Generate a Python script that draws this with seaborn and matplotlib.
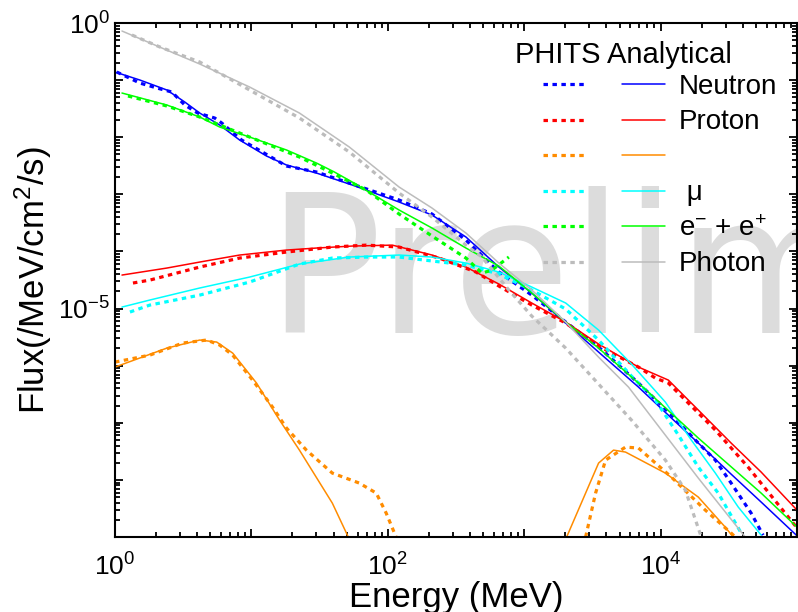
import numpy as np
import pandas as pd
import matplotlib
matplotlib.use("Agg")
import matplotlib.pyplot as plt
import seaborn as sns
from matplotlib.lines import Line2D
from matplotlib.legend_handler import HandlerTuple
from matplotlib.ticker import FixedLocator, LogLocator, FuncFormatter, NullFormatter

# ---------------- spectra (energy in MeV, flux in /MeV/cm^2/s) ----------------
neutron_phits_e = [1.03, 1.52, 2.03, 2.61, 3.25, 4.04, 5.38, 6.06, 8.48, 18.1, 30, 54.9, 121, 211,
                   374, 652, 1136, 2015, 3510, 6880, 1.2e4, 1.89e4, 2.52e4, 3.29e4, 4.61e4, 5.64e4]
neutron_phits_flux = [0.1386, 0.0889, 0.0727, 0.0619, 0.0366, 0.0265, 0.0217, 0.01773, 0.00893,
                      0.00313, 0.00246, 0.00151, 7.95e-4, 4.52e-4, 1.58e-4, 4.36e-5, 1.72e-5, 5.80e-6,
                      2.12e-6, 4.96e-7, 1.364e-7, 4.41e-8, 2.22e-8, 8.79e-9, 2.62e-9, 1.08e-9]
neutron_ana_e = [1, 1.52, 2.40, 3.25, 4.18, 5.85, 8.2, 12.9, 18.1, 30, 54.9, 121, 211, 374, 652,
                 1136, 2015, 3510, 6880, 1.2e4, 1.89e4, 3.29e4, 5.46e4, 1e5]
neutron_ana_flux = [0.1386, 0.1004, 0.0671, 0.0413, 0.0265, 0.01636, 0.00893, 0.00469, 0.00326,
                    0.00236, 0.001455, 7.33e-4, 4.34e-4, 1.79e-4, 5.33e-5, 1.87e-5, 5.57e-6, 1.73e-6,
                    4.22e-7, 1.21e-7, 4.41e-8, 1.26e-8, 4.09e-9, 1.05e-9]

proton_phits_e = [1.354, 1.80, 4.18, 8.2, 18.1, 39.2, 69.5, 121, 238, 443, 652, 1136, 2015, 3510,
                  6880, 9160, 1.14e4, 1.35e4, 2.52e4, 4.38e4, 9.9e4]
proton_phits_flux = [2.80e-5, 3.15e-5, 5.33e-5, 7.66e-5, 9.76e-5, 1.194e-4, 1.29e-4, 1.194e-4,
                     7.66e-5, 4.36e-5, 2.48e-5, 1.15e-5, 5.57e-6, 2.20e-6, 9.45e-7, 6.06e-7, 4.96e-7,
                     3.31e-7, 7.45e-8, 1.675e-8, 1.49e-9]
proton_ana_e = [1.125, 2.40, 4.18, 8.2, 18.1, 30, 54.9, 108, 211, 374, 652, 1136, 2015, 3510, 6880,
                1.14e4, 1.89e4, 3.29e4, 5.46e4, 1e5]
proton_ana_flux = [3.86e-5, 5.12e-5, 6.52e-5, 8.65e-5, 1.058e-4, 1.147e-4, 1.243e-4, 1.29e-4,
                   8.65e-5, 5.33e-5, 2.69e-5, 1.25e-5, 5.80e-6, 2.39e-6, 9.45e-7, 5.59e-7, 1.67e-7,
                   4.41e-8, 1.37e-8, 2.96e-9]

pion_phits_low_e = [1, 1.80, 3.14, 4.70, 5.85, 7.29, 10.2, 14.29, 18.09, 25.3, 39.2, 61.8, 82.3,
                    97.3, 115]
pion_phits_low_flux = [1.156e-6, 1.53e-6, 2.49e-6, 2.81e-6, 2.30e-6, 1.53e-6, 5.59e-7, 1.88e-7,
                       8.07e-8, 3.32e-8, 1.315e-8, 8.79e-9, 5.87e-9, 2.62e-9, 1.0e-9]
pion_phits_high_e = [2820, 3337, 3950, 5529, 6881, 1.199e4, 2.126e4, 3.293e4, 3.52e4]
pion_phits_high_flux = [1.0e-9, 5.87e-9, 2.22e-8, 3.75e-8, 3.61e-8, 1.119e-8, 2.96e-9, 1.17e-9,
                        1.0e-9]
pion_ana_low_e = [1, 2.40, 4.18, 5.57, 7.29, 10.9, 16.08, 22.5, 39.2, 51.3]
pion_ana_low_flux = [9.45e-7, 2.03e-6, 2.81e-6, 2.59e-6, 1.66e-6, 4.96e-7, 1.115e-7, 3.32e-8,
                     3.92e-9, 1.0e-9]
pion_ana_high_e = [2048, 3510, 4519, 5529, 1.084e4, 1.89e4, 2.977e4, 3.406e4]
pion_ana_high_flux = [1.0e-9, 1.97e-8, 3.32e-8, 3.07e-8, 1.315e-8, 5.00e-9, 1.49e-9, 1.0e-9]

muon_phits_e = [1.287, 1.80, 4.18, 9.7, 22.5, 39.2, 69.5, 121, 374, 652, 1136, 2015, 3510, 6115,
                9160, 1.35e4, 1.89e4, 2.645e4, 3.90e4]
muon_phits_flux = [8.69e-6, 1.15e-5, 1.72e-5, 2.91e-5, 6.01e-5, 7.66e-5, 7.98e-5, 7.98e-5,
                   5.78e-5, 4.02e-5, 2.11e-5, 9.80e-6, 2.81e-6, 6.57e-7, 2.50e-7, 6.09e-8, 1.675e-8,
                   5.87e-9, 1.17e-9]
muon_ana_e = [1.125, 1.80, 4.18, 9.7, 22.5, 52.2, 121, 211, 374, 652, 1136, 2015, 3510, 6115,
              1.084e4, 1.68e4, 2.52e4, 3.71e4, 5.46e4]
muon_ana_flux = [1.062e-5, 1.41e-5, 2.29e-5, 3.56e-5, 6.01e-5, 7.98e-5, 8.65e-5, 7.98e-5, 6.26e-5,
                 4.36e-5, 2.38e-5, 1.25e-5, 4.20e-6, 1.066e-6, 2.30e-7, 4.98e-8, 1.315e-8, 3.34e-9,
                 1.08e-9]

electron_phits_e = [1.245, 2.40, 4.18, 9.7, 22.5, 39.2, 69.5, 121, 211, 374, 490, 580, 772]
electron_phits_flux = [0.0527, 0.0352, 0.0226, 0.01008, 0.0045, 0.00236, 0.00119, 4.52e-4,
                       1.86e-4, 7.66e-5, 4.18e-5, 4.72e-5, 7.98e-5]
electron_ana_e = [1.125, 2.40, 4.18, 5.85, 9.7, 18.1, 30, 40.6, 54.9, 121, 211, 374, 652, 1136,
                  2015, 3510, 6880, 1.89e4, 5.46e4, 1e5]
electron_ana_flux = [0.0594, 0.0366, 0.0226, 0.01509, 0.01008, 0.00597, 0.00353, 0.00246, 0.00164,
                     5.31e-4, 2.57e-4, 1.147e-4, 5.55e-5, 1.87e-5, 5.80e-6, 2.03e-6, 4.96e-7,
                     5.40e-8, 5.87e-9, 1.49e-9]

photon_phits_e = [1.331, 2.133, 4.18, 9.7, 22.5, 52.2, 121, 211, 374, 490, 772, 1136, 2015, 3510,
                  6115, 1.084e4, 1.518e4, 1.987e4]
photon_phits_flux = [0.616, 0.380, 0.2075, 0.0671, 0.0217, 0.00551, 0.001054, 4.00e-4, 1.29e-4,
                     7.98e-5, 2.11e-5, 7.39e-6, 2.03e-6, 4.76e-7, 1.115e-7, 2.22e-8, 6.63e-9, 1.0e-9]
photon_ana_e = [1.125, 2.206, 4.18, 9.7, 22.5, 52.2, 121, 211, 374, 652, 1136, 2015, 3510, 5815,
                1.89e4, 4.17e4]
photon_ana_flux = [0.724, 0.365, 0.1914, 0.0757, 0.0265, 0.00674, 0.001342, 5.75e-4, 2.10e-4,
                   6.26e-5, 2.11e-5, 5.80e-6, 1.41e-6, 4.22e-7, 1.075e-8, 1.0e-9]

particles = ["Neutron", "Proton", "Pion", "Muon", "Electron", "Photon"]
legend_labels = ["Neutron", "Proton", "", " μ", "e$^{-}$ + e$^{+}$", "Photon"]
colors = ["#0000ff", "#ff0000", "#ff8c00", "#00ffff", "#00ff00", "#bcbcbc"]

x_labeled = [1, 1e2, 1e4]
y_labeled = [1e-5, 1]

series = [
    ("Neutron", "PHITS", neutron_phits_e, neutron_phits_flux),
    ("Neutron", "Analytical", neutron_ana_e, neutron_ana_flux),
    ("Proton", "PHITS", proton_phits_e, proton_phits_flux),
    ("Proton", "Analytical", proton_ana_e, proton_ana_flux),
    ("Pion", "PHITS", pion_phits_low_e, pion_phits_low_flux),
    ("Pion", "PHITS", pion_phits_high_e, pion_phits_high_flux),
    ("Pion", "Analytical", pion_ana_low_e, pion_ana_low_flux),
    ("Pion", "Analytical", pion_ana_high_e, pion_ana_high_flux),
    ("Muon", "PHITS", muon_phits_e, muon_phits_flux),
    ("Muon", "Analytical", muon_ana_e, muon_ana_flux),
    ("Electron", "PHITS", electron_phits_e, electron_phits_flux),
    ("Electron", "Analytical", electron_ana_e, electron_ana_flux),
    ("Photon", "PHITS", photon_phits_e, photon_phits_flux),
    ("Photon", "Analytical", photon_ana_e, photon_ana_flux),
]

rows = []
for seg, (particle, source, energies, fluxes) in enumerate(series):
    for e, f in zip(energies, fluxes):
        rows.append((particle, source, seg, e, f))
df = pd.DataFrame(rows, columns=["particle", "source", "segment", "energy", "flux"])

# ---------------- styling ----------------
sns.set_theme(style="ticks")
plt.rcParams["font.family"] = ["Liberation Sans", "DejaVu Sans"]
plt.rcParams["mathtext.fontset"] = "custom"
plt.rcParams["mathtext.rm"] = "Liberation Sans"
plt.rcParams["mathtext.it"] = "Liberation Sans:italic"
plt.rcParams["mathtext.bf"] = "Liberation Sans:bold"
plt.rcParams["axes.linewidth"] = 1.5
plt.rcParams["axes.edgecolor"] = "black"

palette = dict(zip(particles, colors))
dot_pattern = (1.4, 1.4)
dash_map = {"PHITS": dot_pattern, "Analytical": ""}
width_map = {"PHITS": 2.3, "Analytical": 1.1}

fig = plt.figure(figsize=(7.98, 6.12), dpi=100)
ax = fig.add_axes([115 / 798, 75 / 612, 682 / 798, 514 / 612])
ax.set_xscale("log")
ax.set_yscale("log")

# watermark behind the curves
ax.text(0.222, 0.397, "Preliminary", transform=ax.transAxes, fontsize=138,
        family="DejaVu Sans", color="#dcdcdc", ha="left", va="baseline",
        zorder=0, clip_on=False)

sns.lineplot(data=df, x="energy", y="flux", hue="particle", style="source", size="source",
             units="segment", estimator=None, sort=False, palette=palette, dashes=dash_map,
             sizes=width_map, hue_order=particles, legend=False, ax=ax, zorder=2)

ax.set_xlim(1, 1e5)
ax.set_ylim(1e-9, 1)


def decade_formatter(labeled):
    def fmt(v, pos):
        for t in labeled:
            if np.isclose(v, t, rtol=1e-6):
                return r"$\mathdefault{10^{%d}}$" % int(round(np.log10(v)))
        return ""
    return FuncFormatter(fmt)


ax.xaxis.set_major_locator(FixedLocator([10.0 ** k for k in range(0, 6)]))
ax.yaxis.set_major_locator(FixedLocator([10.0 ** k for k in range(-9, 1)]))
ax.xaxis.set_minor_locator(LogLocator(base=10, subs=np.arange(2, 10), numticks=30))
ax.yaxis.set_minor_locator(LogLocator(base=10, subs=np.arange(2, 10), numticks=30))
ax.xaxis.set_major_formatter(decade_formatter(x_labeled))
ax.yaxis.set_major_formatter(decade_formatter(y_labeled))
ax.xaxis.set_minor_formatter(NullFormatter())
ax.yaxis.set_minor_formatter(NullFormatter())

ax.tick_params(which="both", direction="in", top=True, right=True, color="black", width=1.3,
               labelsize=19, labelcolor="black")
ax.tick_params(which="major", length=6)
ax.tick_params(which="minor", length=3.3)
ax.tick_params(axis="x", which="major", pad=12)
ax.tick_params(axis="y", which="major", pad=3.5)

ax.set_xlabel("Energy (MeV)", fontsize=25, labelpad=0, color="black")
ax.set_ylabel("Flux(/MeV/cm$^2$/s)", fontsize=25, labelpad=3, color="black")

# legend: dotted PHITS key and solid analytical key side by side on each row
handles = []
for c in colors:
    dotted = Line2D([], [], color=c, lw=width_map["PHITS"], dashes=dot_pattern)
    solid = Line2D([], [], color=c, lw=width_map["Analytical"])
    handles.append((dotted, solid))
fig.text(515 / 798, 1 - 63 / 612, "PHITS Analytical", fontsize=21, color="black",
         ha="left", va="baseline")
leg = ax.legend(handles, legend_labels, handler_map={tuple: HandlerTuple(ndivide=None, pad=1.3)},
                loc="upper left", bbox_to_anchor=(543 / 798, 1 - 74 / 612),
                bbox_transform=fig.transFigure, frameon=False, fontsize=20,
                handlelength=4.4, handletextpad=0.5, labelspacing=0.34, borderpad=0,
                borderaxespad=0)
for t in leg.get_texts():
    t.set_color("black")

fig.savefig("out.png", dpi=100, facecolor="white")
